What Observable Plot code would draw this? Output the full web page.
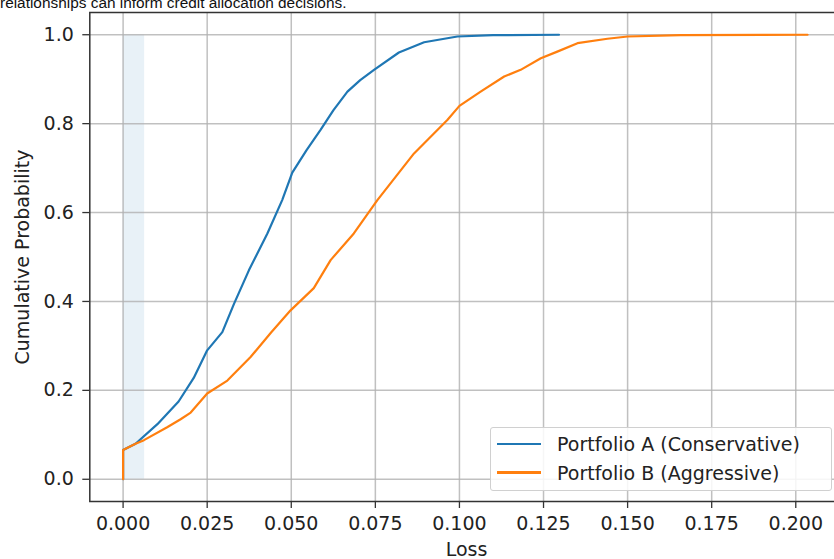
<!DOCTYPE html>
<html>
<head>
<meta charset="utf-8">
<script src="https://cdn.jsdelivr.net/npm/d3@7"></script>
<script src="https://cdn.jsdelivr.net/npm/@observablehq/plot@0.6"></script>
<style>
  html, body { margin: 0; padding: 0; background: white; overflow: hidden; width: 834px; height: 559px; }
  #wrap { position: relative; width: 834px; height: 559px; overflow: hidden; }
  #note { position: absolute; left: 0; top: -5px; z-index: 3; font-family: "Liberation Sans", Arial, sans-serif; font-size: 15.4px; line-height: 15px; color: #111; white-space: nowrap; }
  #chart { position: absolute; left: 0; top: 0; z-index: 1; }
  #chart svg { max-width: none !important; width: 870px !important; height: 559px !important; }
  #legend { position: absolute; z-index: 2; left: 490px; top: 427px; width: 340px; height: 62px; border: 1px solid #d0d0d0; border-radius: 3px; background: rgba(255,255,255,0.85); font-family: "DejaVu Sans", sans-serif; font-size: 19px; color: #222; }
  .item { position: absolute; left: 0; height: 28px; display: flex; align-items: center; white-space: nowrap; }
  .sw { width: 44px; height: 2.2px; margin-left: 6px; margin-right: 16px; }
</style>
</head>
<body>
<div id="wrap">
  <div id="chart"></div>
  <div id="note">relationships can inform credit allocation decisions.</div>
  <div id="legend"></div>
</div>
<script>
const lossA = [0, 0, 0.0037, 0.0102, 0.0165, 0.021, 0.025, 0.0295, 0.033, 0.0374, 0.0429, 0.0473, 0.0503, 0.0545, 0.0587, 0.0625, 0.0667, 0.0705, 0.0746, 0.082, 0.0895, 0.0994, 0.110, 0.1296];
const probA = [0, 0.066, 0.080, 0.124, 0.175, 0.228, 0.29, 0.331, 0.395, 0.47, 0.553, 0.628, 0.690, 0.740, 0.786, 0.830, 0.872, 0.898, 0.921, 0.960, 0.983, 0.996, 0.999, 1.0];
// Series B: Portfolio B (Aggressive)
const lossB = [0, 0, 0.0037, 0.0062, 0.0131, 0.0171, 0.0201, 0.025, 0.031, 0.0379, 0.044, 0.0498, 0.0567, 0.0617, 0.0686, 0.0756, 0.0865, 0.0964, 0.1000, 0.1063, 0.1133, 0.1182, 0.1242, 0.1291, 0.1351, 0.144, 0.150, 0.1658, 0.2035];
const probB = [0, 0.066, 0.080, 0.088, 0.117, 0.135, 0.150, 0.193, 0.222, 0.275, 0.330, 0.380, 0.430, 0.493, 0.553, 0.628, 0.733, 0.808, 0.840, 0.872, 0.906, 0.921, 0.947, 0.962, 0.981, 0.991, 0.996, 0.999, 1.0];
// Shaded band
const bandX = [0, 0.0064];
const bandY = [0, 1];

const seriesNames = ["Portfolio A (Conservative)", "Portfolio B (Aggressive)"];
const seriesColors = ["#1f77b4", "#ff7f0e"];
const xTicks = [0, 0.025, 0.05, 0.075, 0.1, 0.125, 0.15, 0.175, 0.2];
const yTicks = [0, 0.2, 0.4, 0.6, 0.8, 1.0];
const xLabel = "Loss";
const yLabel = "Cumulative Probability";

const dataA = lossA.map((x, i) => ({x, y: probA[i]}));
const dataB = lossB.map((x, i) => ({x, y: probB[i]}));

const W = 870, H = 559;
const font = "DejaVu Sans";
const chart = Plot.plot({
  width: W,
  height: H,
  marginLeft: 89.3,
  marginRight: W - 842.7,
  marginTop: 12,
  marginBottom: 58,
  style: {fontFamily: font, fontSize: "19px", color: "#222", background: "white", overflow: "visible", maxWidth: "none"},
  x: {domain: [-0.0099, 0.2141]},
  y: {domain: [-0.05, 1.05]},
  marks: [
    Plot.rect([{x1: bandX[0], x2: bandX[1], y1: bandY[0], y2: bandY[1]}], {x1: "x1", x2: "x2", y1: "y1", y2: "y2", fill: seriesColors[0], fillOpacity: 0.1}),
    Plot.gridX(xTicks, {stroke: "#b0b0b0", strokeOpacity: 0.8, strokeWidth: 1.5}),
    Plot.gridY(yTicks, {stroke: "#b0b0b0", strokeOpacity: 0.8, strokeWidth: 1.5}),
    Plot.line(dataA, {x: "x", y: "y", stroke: seriesColors[0], strokeWidth: 2.2}),
    Plot.line(dataB, {x: "x", y: "y", stroke: seriesColors[1], strokeWidth: 2.2}),
    Plot.frame({stroke: "#333", strokeWidth: 1.5}),
    Plot.axisX(xTicks, {tickFormat: d3.format(".3f"), tickSize: 7, tickPadding: 8, fontSize: 19, stroke: "#333", strokeWidth: 1.3, label: null}),
    Plot.axisY(yTicks, {tickFormat: d3.format(".1f"), tickSize: 7, tickPadding: 9, fontSize: 19, stroke: "#333", strokeWidth: 1.3, label: null}),
    Plot.text([yLabel], {text: d => d, frameAnchor: "left", dx: -67, rotate: -90, textAnchor: "middle", lineAnchor: "middle", fontSize: 19, fill: "#222"}),
    Plot.text([xLabel], {text: d => d, frameAnchor: "bottom", dy: 48, textAnchor: "middle", lineAnchor: "middle", fontSize: 19, fill: "#222"})
  ]
});
document.getElementById("chart").appendChild(chart);

const legend = document.getElementById("legend");
seriesNames.forEach((name, i) => {
  const item = document.createElement("div");
  item.className = "item";
  item.style.top = (2 + i * 28.5) + "px";
  const sw = document.createElement("div");
  sw.className = "sw";
  sw.style.background = seriesColors[i];
  const t = document.createElement("span");
  t.textContent = name;
  item.appendChild(sw);
  item.appendChild(t);
  legend.appendChild(item);
});
</script>
</body>
</html>
